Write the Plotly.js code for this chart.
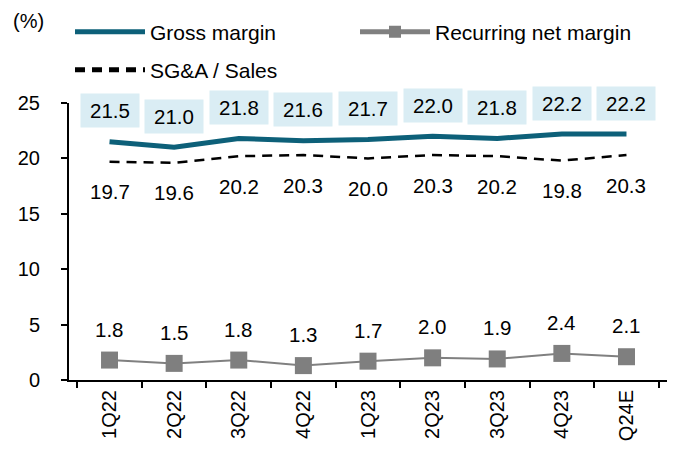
<!DOCTYPE html>
<html>
<head>
<meta charset="utf-8">
<script src="https://cdn.plot.ly/plotly-3.0.1.min.js"></script>
<style>html,body{margin:0;padding:0;background:#fff;}#chart{width:674px;height:452px;}</style>
</head>
<body>
<div id="chart"></div>
<script>
const categories = ["1Q22","2Q22","3Q22","4Q22","1Q23","2Q23","3Q23","4Q23","Q24E"];
const grossMargin = [21.5,21.0,21.8,21.6,21.7,22.0,21.8,22.2,22.2];
const netMargin = [1.8,1.5,1.8,1.3,1.7,2.0,1.9,2.4,2.1];
const sgaSales = [19.7,19.6,20.2,20.3,20.0,20.3,20.2,19.8,20.3];
const yTicks = [0,5,10,15,20,25];

const FONT = "Arial, 'Liberation Sans', sans-serif";

const traces = [
  {x: categories, y: grossMargin, name: "Gross margin", type: "scatter", mode: "lines",
   line: {color: "#0d6079", width: 5}, legend: "legend"},
  {x: categories, y: netMargin, name: "Recurring net margin", type: "scatter", mode: "lines+markers",
   line: {color: "#808080", width: 2}, marker: {symbol: "square", size: 17, color: "#7f7f7f"}, legend: "legend"},
  {x: categories, y: sgaSales, name: "SG&A / Sales", type: "scatter", mode: "lines",
   line: {color: "#000000", width: 2.5, dash: "10px,7px"}, legend: "legend2"}
];

const annotations = [];
categories.forEach((c, i) => {
  annotations.push({x: c, y: grossMargin[i], text: grossMargin[i].toFixed(1), showarrow: false,
    yshift: 31, bgcolor: "#daedf4", width: 48, borderpad: 5, font: {size: 20.5, color: "#000", family: FONT}});
  annotations.push({x: c, y: sgaSales[i], text: sgaSales[i].toFixed(1), showarrow: false,
    yshift: -30, font: {size: 20.5, color: "#000", family: FONT}});
  annotations.push({x: c, y: netMargin[i], text: netMargin[i].toFixed(1), showarrow: false,
    yshift: 31, font: {size: 20.5, color: "#000", family: FONT}});
});
annotations.push({xref: "paper", yref: "paper", x: (28 - 69) / 598, y: (380 - 21) / 277,
  xanchor: "center", yanchor: "middle", text: "(%)", showarrow: false,
  font: {size: 20, color: "#000", family: FONT}});

const legendCommon = {orientation: "h", xanchor: "left", yanchor: "middle",
  font: {size: 21, family: FONT, color: "#000"}, bgcolor: "rgba(0,0,0,0)",
  itemwidth: 70, itemsizing: "constant", borderwidth: 0};

const layout = {
  width: 674, height: 452,
  margin: {l: 69, r: 7, t: 103, b: 72},
  paper_bgcolor: "#fff", plot_bgcolor: "#fff",
  font: {family: FONT, size: 20, color: "#000"},
  showlegend: true,
  legend: Object.assign({}, legendCommon, {x: (70 - 69) / 598, y: (380 - 32) / 277,
    entrywidth: 200, entrywidthmode: "pixels"}),
  legend2: Object.assign({}, legendCommon, {x: (70 - 69) / 598, y: (380 - 70) / 277}),
  xaxis: {type: "category", categoryorder: "array", categoryarray: categories, automargin: false,
    showline: true, linecolor: "#000", linewidth: 2, ticks: "outside", ticklen: 6, tickwidth: 2,
    tickcolor: "#000", tickson: "boundaries", tickangle: -90, showgrid: false, zeroline: false,
    tickfont: {size: 20, family: FONT}, fixedrange: true},
  yaxis: {range: [0, 25], tickvals: yTicks, showline: true, linecolor: "#000", linewidth: 2, automargin: false,
    ticks: "outside", ticklen: 6, tickwidth: 2, tickcolor: "#000", showgrid: false, zeroline: false,
    tickfont: {size: 20, family: FONT}, ticklabelstandoff: 17, fixedrange: true},
  annotations: annotations
};

Plotly.newPlot("chart", traces, layout, {displayModeBar: false, staticPlot: true});
</script>
</body>
</html>
